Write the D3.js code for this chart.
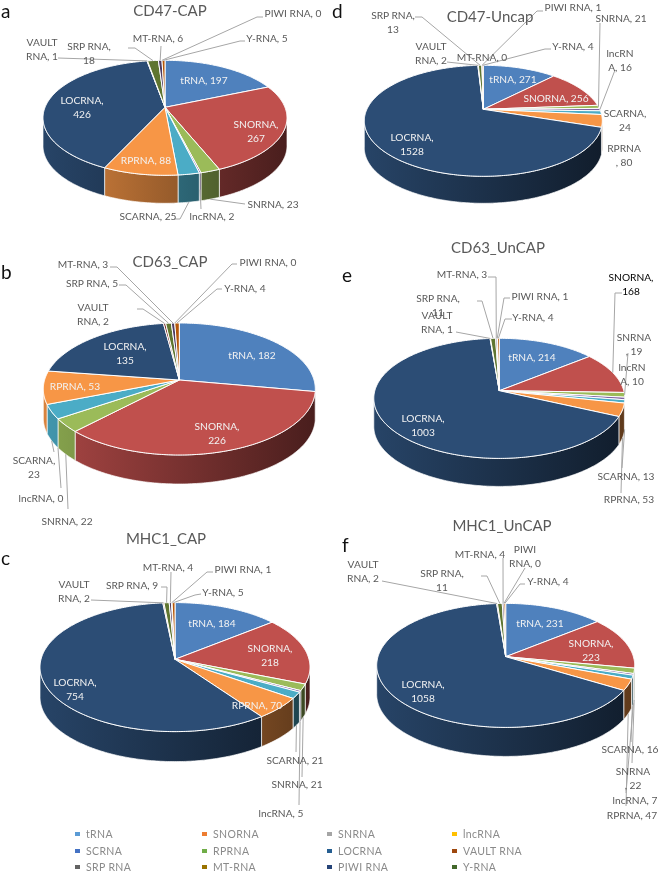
<!DOCTYPE html>
<html><head><meta charset="utf-8">
<script src="https://cdn.jsdelivr.net/npm/d3@7/dist/d3.min.js"></script>
<style>html,body{margin:0;padding:0;background:#fff}svg{display:block;filter:blur(0.35px)}
text{font-family:Lato,"Noto Sans",sans-serif}</style></head>
<body><svg id="c" width="658" height="872"></svg>
<script>
const categories=["tRNA","SNORNA","SNRNA","lncRNA","SCARNA","RPRNA","LOCRNA","VAULT RNA","SRP RNA","MT-RNA","PIWI RNA","Y-RNA"];
const sliceColors=["#4f81bd","#c0504d","#9bbb59","#8064a2","#4bacc6","#f79646","#2c4d75","#772c2a","#5f7530","#4d3b62","#276a7c","#b65708"];
const cd47Cap=[197,267,23,2,25,88,426,1,18,6,0,5];
const cd63Cap=[182,226,22,0,23,53,135,2,5,3,0,4];
const mhc1Cap=[184,218,21,5,21,70,754,2,9,4,1,5];
const cd47Uncap=[271,256,21,16,24,80,1528,2,13,0,1,4];
const cd63Uncap=[214,168,19,10,13,53,1003,1,11,3,1,4];
const mhc1Uncap=[231,223,22,7,16,47,1058,2,11,4,0,4];
const legendNames=["tRNA","SNORNA","SNRNA","lncRNA","SCRNA","RPRNA","LOCRNA","VAULT RNA","SRP RNA","MT-RNA","PIWI RNA","Y-RNA"];
const legendColors=["#5b9bd5","#ed7d31","#a5a5a5","#ffc000","#4472c4","#70ad47","#255e91","#9e480e","#636363","#997300","#264478","#43682b"];

// Layout only. Each label: category index, centre of first line, optional break, leader start points, wall flag.
const panels=[
{values:cd47Cap,title:"CD47-CAP",tx:170,ty:11,letter:"a",lx:1,ly:11,cx:165,cy:107.3,rx:122,above:47,below:68,depth:28,labels:[
 {i:0,x:204,y:80,w:1},{i:1,x:256,y:124,br:7,w:1},{i:5,x:146,y:160,w:1},{i:6,x:82,y:100,br:7,w:1},
 {i:2,x:273,y:204,l:[[245,204]],wall:1},{i:3,x:212,y:216,l:[[201,209]],wall:.6},{i:4,x:148,y:216,l:[[174,219],[180,219]],wall:1},
 {i:11,x:267,y:38,l:[[245,41],[240,41]]},{i:10,x:293,y:13,l:[[263,17],[257,17]]},{i:9,x:158,y:38,l:[[161,46]]},
 {i:8,x:89,y:46,br:8,l:[[128,48],[135,48]]},{i:7,x:42,y:42,br:5,l:[[58,58]]}]},
{values:cd63Cap,title:"CD63_CAP",tx:170,ty:262,letter:"b",lx:1,ly:272,cx:179.3,cy:380,rx:136,above:57,below:75,depth:29,labels:[
 {i:0,x:252,y:355,w:1},{i:1,x:217,y:426,br:7,w:1},{i:6,x:125,y:346,br:7,w:1},{i:5,x:75,y:386,w:1},
 {i:4,x:34,y:460,br:7,l:[[54,452]],wall:1},{i:3,x:41,y:498,l:[[61,488]],wall:1},{i:2,x:67,y:521,l:[[68,509]],wall:1},
 {i:11,x:245,y:288,l:[[222,289],[217,289]]},{i:10,x:268,y:262,l:[[237,264],[232,264]]},{i:9,x:83,y:264,l:[[110,267],[117,267]]},
 {i:8,x:92,y:283,l:[[119,285],[126,285]]},{i:7,x:93,y:307,br:5,l:[[137,309],[143,309]]}]},
{values:mhc1Cap,title:"MHC1_CAP",tx:166,ty:539,letter:"c",lx:1,ly:558,cx:175,cy:659.3,rx:135,above:56.7,below:72.3,depth:30,labels:[
 {i:0,x:212,y:623,w:1},{i:1,x:270,y:648,br:7,w:1},{i:5,x:257,y:705,w:1},{i:6,x:75,y:682,br:7,w:1},
 {i:4,x:295,y:760,l:[[296,752]],wall:1},{i:2,x:297,y:784,l:[[302,777]],wall:1},{i:3,x:281,y:813,l:[[299,805]],wall:1},
 {i:11,x:223,y:592,l:[[201,594],[195,595]]},{i:10,x:243,y:569,l:[[213,572],[207,572]]},{i:9,x:168,y:567,l:[[171,572]]},
 {i:8,x:132,y:585,l:[[161,587],[167,587]]},{i:7,x:74,y:584,br:5,l:[[91,600]]}]},
{values:cd47Uncap,title:"CD47-Uncap",tx:490,ty:17,letter:"d",lx:332,ly:11,cx:483.3,cy:109.3,rx:119,above:44,below:67,depth:27,labels:[
 {i:0,x:513,y:79,w:1},{i:1,x:556,y:98,w:1},{i:6,x:412,y:137,br:7,w:1},
 {i:4,x:625,y:113,br:7},{i:5,x:624,y:148,br:5},
 {i:3,x:620,y:53,br:5,l:[[615,70]]},{i:2,x:621,y:18,l:[[600,23]]},
 {i:11,x:573,y:46,l:[[551,49],[545,49]]},{i:10,x:573,y:7,l:[[543,11],[537,11]]},{i:9,x:482,y:57},
 {i:7,x:431,y:46,br:5,l:[[447,62]]},{i:8,x:393,y:15,br:8,l:[[415,17],[422,17]]}]},
{values:cd63Uncap,title:"CD63_UnCAP",tx:498,ty:248,letter:"e",lx:342,ly:275,cx:499.3,cy:390.7,rx:125.5,above:52.4,below:67.7,depth:28,labels:[
 {i:0,x:532,y:357,w:1},{i:6,x:423,y:418,br:7,w:1},
 {i:1,x:631,y:277,br:7,k:1,l:[[622,293],[615,293]]},{i:2,x:634,y:337,br:5,l:[[628,353]]},{i:3,x:632,y:367,br:5},
 {i:4,x:626,y:476,l:[[622,468]],wall:1},{i:5,x:629,y:499,l:[[621,493]],wall:1},
 {i:9,x:462,y:274,l:[[488,277],[496,277]]},{i:10,x:540,y:296,l:[[510,298],[504,298]]},{i:11,x:533,y:317,l:[[512,319],[505,319]]},
 {i:8,x:438,y:298,br:8,l:[[477,301],[482,301]]},{i:7,x:437,y:315,br:5,l:[[456,332]]}]},
{values:mhc1Uncap,title:"MHC1_UnCAP",tx:502,ty:526,letter:"f",lx:342,ly:545,cx:505.7,cy:656.7,rx:129,above:53.3,below:70.7,depth:29,labels:[
 {i:0,x:540,y:623,w:1},{i:1,x:591,y:643,br:7,w:1},{i:6,x:423,y:684,br:7,w:1},
 {i:4,x:630,y:749,l:[[631,742]],wall:1},{i:2,x:633,y:771,br:5,l:[[632,763]],wall:1},
 {i:3,x:635,y:800,l:[[626,793]],wall:1},{i:5,x:632,y:815,l:[[626,806]],wall:1},
 {i:9,x:480,y:554,l:[[503,558]]},{i:10,x:525,y:549,br:4,l:[[525,568]]},{i:11,x:548,y:581,l:[[525,584],[520,584]]},
 {i:8,x:442,y:573,br:8,l:[[481,576],[487,576]]},{i:7,x:363,y:564,br:5,l:[[382,581]]}]}
];
const legendCols=[75,202,327,452], legendRows=[834,851,867];

const svg=d3.select("#c");
const defs=svg.append("defs");
const color=d3.scaleOrdinal(categories,sliceColors);
const legendColor=d3.scaleOrdinal(legendNames,legendColors);
const line=d3.line();
const lineC=d3.line().curve(d3.curveLinearClosed);
const pie=d3.pie().sort(null).value(d=>d.value);
const shade=(c,f)=>{const r=d3.rgb(c);return d3.rgb(r.r*f,r.g*f,r.b*f).formatHex();};

panels.forEach((P,pi)=>{
  const p=(P.below-P.above)/(P.below+P.above), s=P.rx*Math.sqrt(1-p*p), ts=P.below*(1-p);
  const proj=(a,r=1,dz=0)=>{const u=r*Math.sin(a),v=-r*Math.cos(a),k=1/(1-p*v);
    return [P.cx+s*u*k, P.cy+ts*v*k+dz];};
  const arcPts=(a0,a1,dz=0)=>{const n=Math.max(2,Math.ceil(Math.abs(a1-a0)/0.015));
    return d3.range(n+1).map(j=>proj(a0+(a1-a0)*j/n,1,dz));};
  const arcs=pie(P.values.map((value,i)=>({value,name:categories[i]})));
  const g=svg.append("g");
  const lim=Math.acos(p), front0=Math.PI-lim, front1=Math.PI+lim;

  arcs.forEach(d=>{
    const a0=Math.max(d.startAngle,front0),a1=Math.min(d.endAngle,front1);
    if(a1<=a0) return;
    const id=`w${pi}_${d.index}`, base=color(d.data.name);
    const gr=defs.append("linearGradient").attr("id",id).attr("gradientUnits","userSpaceOnUse")
      .attr("x1",P.cx-P.rx).attr("x2",P.cx+P.rx).attr("y1",0).attr("y2",0);
    gr.append("stop").attr("offset",0).attr("stop-color",shade(base,.88));
    gr.append("stop").attr("offset",1).attr("stop-color",shade(base,.38));
    const top=arcPts(a0,a1), bot=arcPts(a1,a0,P.depth);
    g.append("path").attr("d",lineC(top.concat(bot))).attr("fill",`url(#${id})`)
      .attr("stroke","#fff").attr("stroke-width",.8).attr("stroke-opacity",.85);
  });
  arcs.forEach(d=>{
    if(d.endAngle-d.startAngle<=0) return;
    const pts=[proj(0,0)].concat(arcPts(d.startAngle,d.endAngle));
    g.append("path").attr("d",lineC(pts)).attr("fill",color(d.data.name))
      .attr("stroke","#fff").attr("stroke-width",1).attr("stroke-linejoin","round");
  });
  P.labels.filter(L=>L.l).forEach(L=>{
    const d=arcs[L.i], mid=(d.startAngle+d.endAngle)/2;
    const end=proj(mid,1,(L.wall||0)*P.depth);
    g.append("path").attr("d",line(L.l.concat([end]))).attr("fill","none")
      .attr("stroke","#a6a6a6").attr("stroke-width",1);
  });
  P.labels.forEach(L=>{
    const str=`${categories[L.i]}, ${P.values[L.i]}`;
    const lines=L.br?[str.slice(0,L.br).trim(),str.slice(L.br).trim()]:[str];
    lines.forEach((t,j)=>{
      g.append("text").attr("x",L.x).attr("y",L.y+j*14).attr("text-anchor","middle").attr("dy","0.35em")
       .attr("font-size",10.2).attr("fill",L.w?"#f2f2f2":L.k?"#000":"#595959").text(t);
    });
  });
  g.append("text").attr("x",P.tx).attr("y",P.ty).attr("dy","0.35em").attr("text-anchor","middle")
    .attr("font-size",15).attr("fill","#595959").text(P.title);
  g.append("text").attr("x",P.lx).attr("y",P.ly).attr("dy","0.35em").attr("font-size",19)
    .attr("fill","#111").text(P.letter);
});

legendNames.forEach((n,i)=>{
  const x=legendCols[i%4], y=legendRows[Math.floor(i/4)];
  svg.append("rect").attr("x",x).attr("y",y-2).attr("width",5).attr("height",4).attr("fill",legendColor(n));
  svg.append("text").attr("x",x+11).attr("y",y).attr("dy","0.35em").attr("font-size",10.5)
    .attr("letter-spacing",0.35).attr("font-family","'Open Sans'").attr("fill","#8a8a8a").text(n);
});
</script></body></html>
